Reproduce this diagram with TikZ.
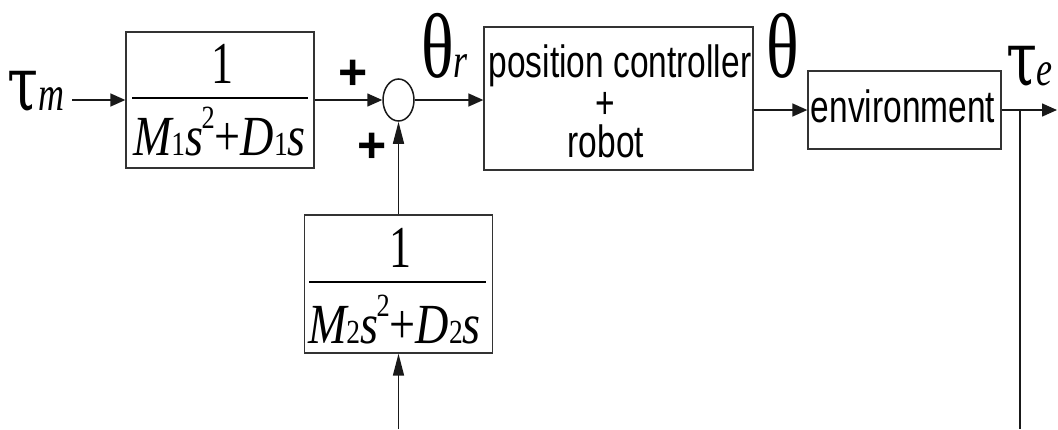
\documentclass[tikz,border=0pt]{standalone}
\usepackage{graphicx}
\usepackage{fontspec}
\setmainfont{Liberation Serif}
\newfontfamily\sansf{Liberation Sans}
\newfontfamily\taufont{DejaVu Serif}
\usetikzlibrary{shapes.geometric,arrows.meta}
\newcommand\vsc[1]{\scalebox{1}[1.35]{#1}}
\newcommand\fs[1]{\fontsize{#1}{#1}\selectfont}
\newcommand\denom[1]{\scalebox{1.1}[1.35]{\fs{42}{\itshape M}{\fs{25}#1}{\itshape s}\kern-1.5pt\raisebox{20pt}{\fs{24}2}\kern0pt+{\itshape D}{\fs{25}#1}{\itshape s}}}
\begin{document}
\begin{tikzpicture}[x=1pt,y=-1pt,
  blk/.style={draw=black!80,line width=1.3pt,rectangle,inner sep=0pt},
  txt/.style={inner sep=0pt,outer sep=0pt},
  harr/.style={draw=black!90,line width=1.5pt,-{Triangle[length=15pt,width=13pt]}},
  varr/.style={draw=black!90,line width=1.5pt,-{Triangle[length=22pt,width=11pt]}},
  fbar/.style={line width=2.5pt},
  sig/.style={draw=black!90,line width=1.5pt}]
\useasboundingbox (0,0) rectangle (1058,429);
% blocks
\node[blk,minimum width=188pt,minimum height=136pt] (b1) at (220,100) {};
\node[blk,minimum width=188pt,minimum height=138pt] (b2) at (398.5,284) {};
\node[blk,minimum width=269pt,minimum height=143pt] (pc) at (618.5,98.5) {};
\node[blk,minimum width=193pt,minimum height=78pt] (env) at (904.5,110) {};
\node[draw=black!90,line width=1.5pt,ellipse,inner sep=0pt,minimum width=31pt,minimum height=42pt] (sum) at (398.5,100) {};
% fractions
\node[txt,anchor=base] (n1) at (222,83) {\vsc{\fs{44}1}};
\draw[fbar] (132,98) -- (308,98);
\node[txt,anchor=base west] (d1) at (133,155) {\denom{1}};
\node[txt,anchor=base] (n2) at (400,267) {\vsc{\fs{44}1}};
\draw[fbar] (309,282) -- (486,282);
\node[txt,anchor=base west] (d2) at (308,343) {\denom{2}};
% block texts
\node[txt,anchor=base] (t1) at (620,77.5) {\vsc{\sansf\fs{33.5}position controller}};
\node[txt] (t2) at (605,105) {\vsc{\sansf\fs{33.5}+}};
\node[txt,anchor=base] (t3) at (606,157) {\vsc{\sansf\fs{33.5}robot}};
\node[txt,anchor=base] (t4) at (903,122) {\vsc{\sansf\fs{33.5}environment}};
% signal labels
\node[txt,anchor=base west] (ltm) at (8,110) {\vsc{\taufont\fs{56}τ\normalfont\fs{36}\itshape m}};
\node[txt,anchor=base west] (lthr) at (421,77) {\vsc{\fs{68}θ\fs{36}\itshape r}};
\node[txt,anchor=base west] (lth) at (766,77) {\vsc{\fs{68}θ}};
\node[txt,anchor=base west] (lte) at (1006,85) {\vsc{\taufont\fs{56}τ\normalfont\fs{36}\itshape e}};
\node[txt,font=\sansf\bfseries\fs{50}] (p1) at (353,75) {+};
\node[txt,font=\sansf\bfseries\fs{50}] (p2) at (372,148) {+};
% connectors
\coordinate (tin) at (72,100);
\coordinate (bin) at (398.5,429);
\coordinate (out) at (1057,110);
\coordinate (br) at (1020,110);
\coordinate (fb) at (1020,429);
\draw[harr] (tin) -- (b1.west);
\draw[harr] (b1.east) -- (sum.west);
\draw[harr] (sum.east) -- (sum.east -| pc.west);
\draw[varr] (b2.north) -- (sum.south);
\draw[varr] (bin) -- (b2.south);
\draw[harr] (pc.east |- env.west) -- (env.west);
\draw[harr] (env.east) -- (out);
\draw[sig] (br) -- (fb);
\end{tikzpicture}
\end{document}
